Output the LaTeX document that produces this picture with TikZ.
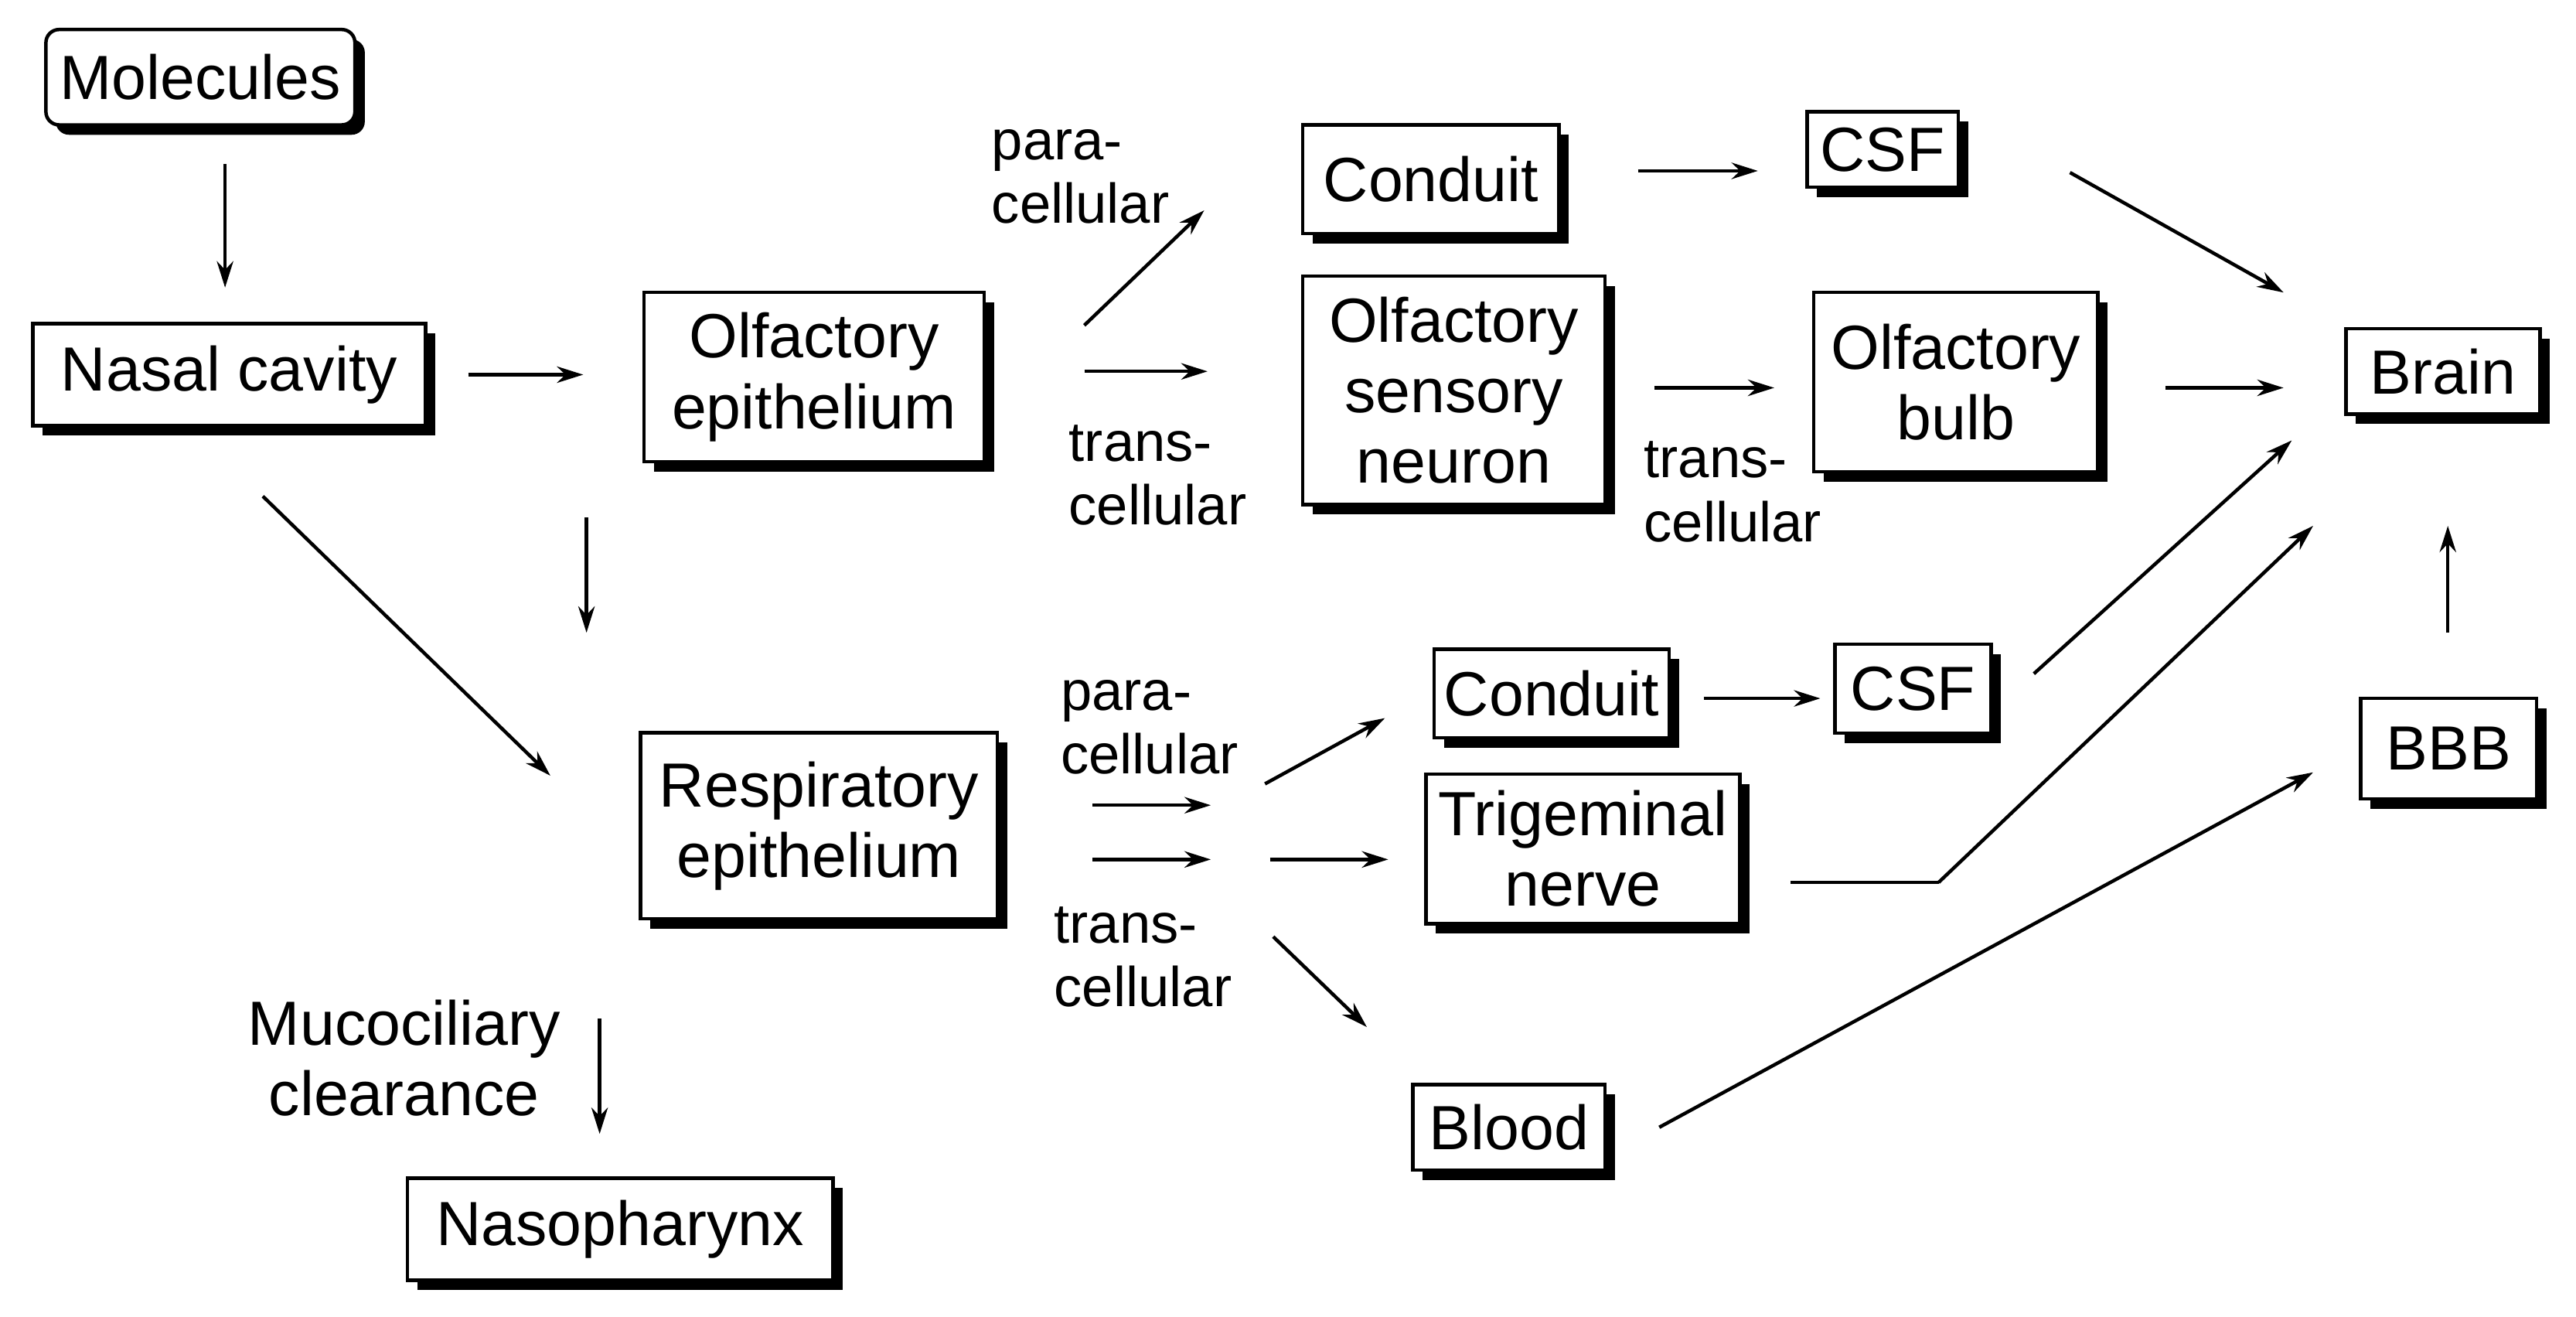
\documentclass[tikz,border=0pt]{standalone}
\usepackage{fontspec}
\setmainfont{Liberation Sans}
\usetikzlibrary{arrows.meta,shadows}
\begin{document}
\begin{tikzpicture}[x=0.01cm,y=-0.01cm,
  bx/.style={draw,fill=white,line width=0.6pt,inner sep=0pt,align=center,
    font=\fontsize{10.8}{12.2}\selectfont,
    drop shadow={shadow xshift=0.06cm,shadow yshift=-0.06cm,fill=black,opacity=1}},
  lb/.style={align=left,inner sep=0pt,font=\fontsize{9.7}{11}\selectfont},
  ar/.style={line width=0.6pt,-{Stealth[length=0.16cm,width=0.1cm]}},
  ln/.style={line width=0.6pt}]
\useasboundingbox (0,0) rectangle (1568,801);
\node[bx,rounded corners=0.08cm,minimum width=1.88cm,minimum height=0.58cm] (mol) at (122,47) {Molecules};
\node[bx,minimum width=2.39cm,minimum height=0.62cm] (nas) at (139.5,228) {Nasal cavity};
\node[bx,minimum width=2.07cm,minimum height=1.03cm] (oep) at (495.5,229.5) {Olfactory\\epithelium};
\node[bx,minimum width=2.17cm,minimum height=1.13cm] (rep) at (498.5,502.5) {Respiratory\\epithelium};
\node[bx,minimum width=2.59cm,minimum height=0.62cm] (nph) at (377.5,748) {Nasopharynx};
\node[bx,minimum width=1.56cm,minimum height=0.66cm] (con1) at (871,109) {Conduit};
\node[bx,minimum width=0.92cm,minimum height=0.46cm] (csf1) at (1146,91) {CSF};
\node[bx,minimum width=1.84cm,minimum height=1.39cm] (osn) at (885,237.5) {Olfactory\\sensory\\neuron};
\node[bx,minimum width=1.73cm,minimum height=1.09cm] (bulb) at (1190.5,232.5) {Olfactory\\bulb};
\node[bx,minimum width=1.18cm,minimum height=0.52cm] (brain) at (1487,226) {Brain};
\node[bx,minimum width=1.43cm,minimum height=0.54cm] (con2) at (944.5,422) {Conduit};
\node[bx,minimum width=0.95cm,minimum height=0.54cm] (csf2) at (1164.5,419) {CSF};
\node[bx,minimum width=1.91cm,minimum height=0.91cm] (trig) at (963.5,516.5) {Trigeminal\\nerve};
\node[bx,minimum width=1.17cm,minimum height=0.52cm] (blood) at (918.5,686) {Blood};
\node[bx,minimum width=1.07cm,minimum height=0.61cm] (bbb) at (1490.5,455.5) {BBB};

\node[lb,anchor=north west] (l1) at (603,78) {para-\\cellular};
\node[lb,anchor=north west] (l2) at (650,258) {trans-\\cellular};
\node[lb,anchor=north west] (l3) at (645,413) {para-\\cellular};
\node[lb,anchor=north west] (l4) at (641,551) {trans-\\cellular};
\node[lb,anchor=north west] (l5) at (1000,268) {trans-\\cellular};
\node[align=center,inner sep=0pt,font=\fontsize{10.8}{12.2}\selectfont] (muc) at (246,644) {Mucociliary\\clearance};

\foreach \n/\x/\y in {a1/137/100,a2/137/175,b1/285/228,b2/355/228,c1/160/302,c2/335/472,
  d1/357/315,d2/357/385,e1/660/198,e2/733/128,f1/660/226,f2/735/226,g1/997/104,g2/1070/104,
  h1/1007/236,h2/1080/236,i1/1260/105,i2/1390/178,j1/1318/236,j2/1390/236,
  k1/665/490,k2/737/490,m1/665/523,m2/737/523,n1/770/477,n2/843/437,o1/773/523,o2/845/523,
  p1/775/570,p2/832/625,q1/1037/425,q2/1108/425,r1/1238/410,r2/1395/268,
  s1/1090/537,s2/1180/537,s3/1408/320,t1/1010/686,t2/1408/470,u1/1490/385,u2/1490/320,
  v1/365/620,v2/365/690}
  \coordinate (\n) at (\x,\y);
\foreach \a/\b in {a1/a2,b1/b2,c1/c2,d1/d2,e1/e2,f1/f2,g1/g2,h1/h2,i1/i2,j1/j2,k1/k2,m1/m2,
  n1/n2,o1/o2,p1/p2,q1/q2,r1/r2,s2/s3,t1/t2,u1/u2,v1/v2}
  \draw[ar] (\a) -- (\b);
\draw[ln] (s1) -- (s2);
\end{tikzpicture}
\end{document}
